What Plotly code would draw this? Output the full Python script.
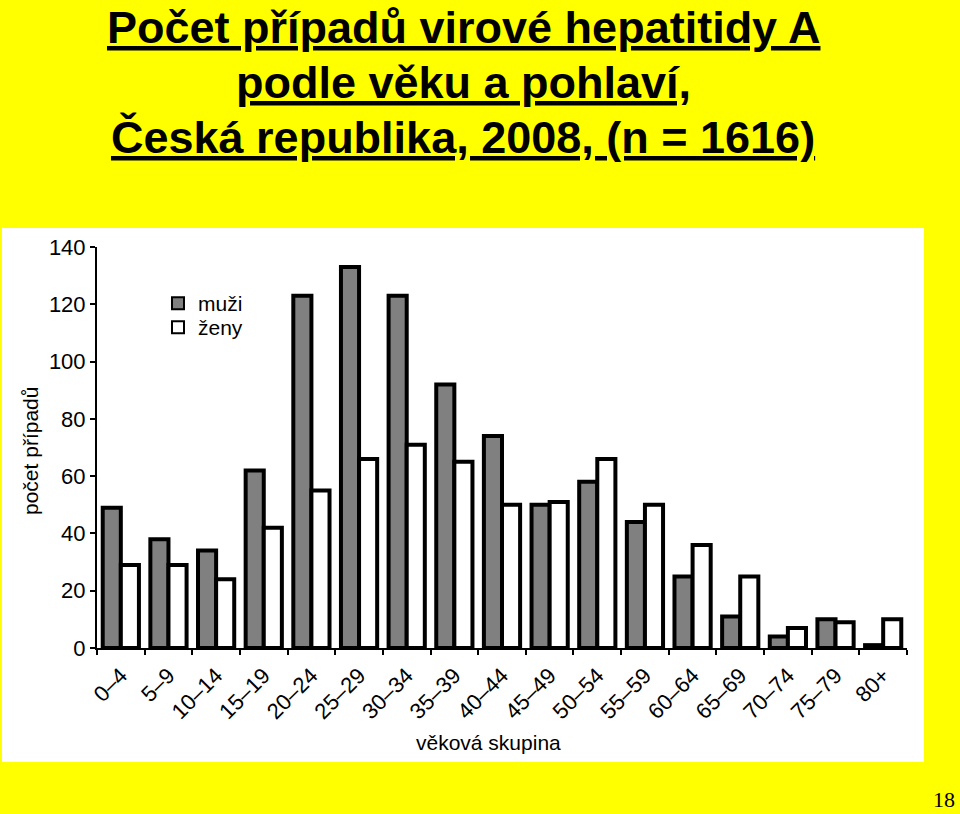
import plotly.graph_objects as go

categories = ["0–4", "5–9", "10–14", "15–19", "20–24", "25–29", "30–34", "35–39",
              "40–44", "45–49", "50–54", "55–59", "60–64", "65–69", "70–74", "75–79", "80+"]
muzi = [49, 38, 34, 62, 123, 133, 123, 92, 74, 50, 58, 44, 25, 11, 4, 10, 1]
zeny = [29, 29, 24, 42, 55, 66, 71, 65, 50, 51, 66, 50, 36, 25, 7, 9, 10]
y_ticks = [0, 20, 40, 60, 80, 100, 120, 140]

W, H = 960, 814
L, R, T, B = 97, 907, 247, 648  # plot area in pixels

def px(xp):
    return (xp - L) / (R - L)

def py(yp):
    return (B - yp) / (B - T)

FONT = "Arial, Liberation Sans, Helvetica, sans-serif"

fig = go.Figure()
fig.add_trace(go.Bar(x=categories, y=muzi, name="muži", legend="legend",
                     marker=dict(color="#808080", line=dict(color="black", width=4))))
fig.add_trace(go.Bar(x=categories, y=zeny, name="ženy", legend="legend2",
                     marker=dict(color="white", line=dict(color="black", width=4))))

# white panel behind the chart
fig.add_shape(type="rect", xref="paper", yref="paper",
              x0=px(2), x1=px(924), y0=py(762), y1=py(228),
              fillcolor="white", line=dict(width=0), layer="below")

titles = [("Počet případů virové hepatitidy A", 0),
          ("podle věku a pohlaví,", 55),
          ("Česká republika, 2008, (n = 1616)", 110)]
for txt, top in titles:
    fig.add_annotation(text=f"<b><u>{txt}</u></b>", xref="paper", yref="paper",
                       x=px(463), y=py(top), xanchor="center", yanchor="top",
                       showarrow=False, font=dict(family=FONT, size=45, color="black"))

fig.add_annotation(text="věková skupina", xref="paper", yref="paper",
                   x=px(488), y=py(742), xanchor="center", yanchor="middle",
                   showarrow=False, font=dict(family=FONT, size=21, color="black"))
fig.add_annotation(text="počet případů", xref="paper", yref="paper",
                   x=px(30), y=py(451), xanchor="center", yanchor="middle", textangle=-90,
                   showarrow=False, font=dict(family=FONT, size=21, color="black"))
fig.add_annotation(text="18", xref="paper", yref="paper",
                   x=px(944), y=py(799), xanchor="center", yanchor="middle",
                   showarrow=False, font=dict(family="Liberation Serif, Times New Roman, serif",
                                              size=22, color="black"))

legend_style = dict(xanchor="left", yanchor="top", bgcolor="rgba(0,0,0,0)",
                    font=dict(family=FONT, size=21, color="black"), itemsizing="constant")

fig.update_layout(
    width=W, height=H,
    margin=dict(l=L, r=W - R, t=T, b=H - B, pad=0),
    paper_bgcolor="#FFFF00", plot_bgcolor="white",
    barmode="group", bargap=0.24, bargroupgap=0,
    showlegend=True,
    legend=dict(x=px(158), y=py(283), **legend_style),
    legend2=dict(x=px(158), y=py(307), **legend_style),
    font=dict(family=FONT, color="black"),
)
fig.update_xaxes(showline=True, linecolor="black", linewidth=2, tickson="boundaries",
                 ticks="outside", ticklen=5, tickwidth=1.5, tickcolor="black",
                 tickangle=-45, tickfont=dict(family=FONT, size=22, color="black"),
                 ticklabelstandoff=4,
                 showgrid=False, zeroline=False, fixedrange=True)
fig.update_yaxes(range=[0, 140], tickvals=y_ticks, showline=True, linecolor="black", linewidth=2,
                 ticks="outside", ticklen=5, tickwidth=1.5, tickcolor="black",
                 tickfont=dict(family=FONT, size=22, color="black"),
                 showgrid=False, zeroline=False, fixedrange=True)

fig.write_html("out.html")
